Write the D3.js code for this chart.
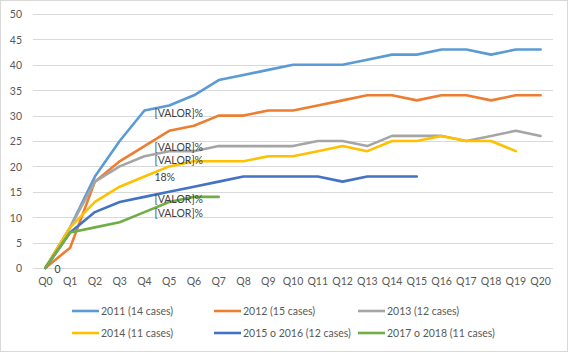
<!DOCTYPE html>
<html><head><meta charset="utf-8">
<script src="https://cdn.jsdelivr.net/npm/d3@7"></script>
<style>body{margin:0;background:#fff}svg{display:block;font-family:Lato,"Liberation Sans",sans-serif}</style>
</head><body><svg id="c" width="568" height="352"></svg>
<script>
const categories = ["Q0","Q1","Q2","Q3","Q4","Q5","Q6","Q7","Q8","Q9","Q10","Q11","Q12","Q13","Q14","Q15","Q16","Q17","Q18","Q19","Q20"];
const seriesNames = ["2011 (14 cases)","2012 (15 cases)","2013 (12 cases)","2014 (11 cases)","2015 o 2016 (12 cases)","2017 o 2018 (11 cases)"];
const seriesColors = ["#5B9BD5","#ED7D31","#A5A5A5","#FFC000","#4472C4","#70AD47"];
const s2011 = [0,8,18,25,31,32,34,37,38,39,40,40,40,41,42,42,43,43,42,43,43];
const s2012 = [0,4,17,21,24,27,28,30,30,31,31,32,33,34,34,33,34,34,33,34,34];
const s2013 = [0,8,17,20,22,23,23,24,24,24,24,25,25,24,26,26,26,25,26,27,26];
const s2014 = [0,8,13,16,18,20,21,21,21,22,22,23,24,23,25,25,26,25,25,23];
const s2015 = [0,7,11,13,14,15,16,17,18,18,18,18,17,18,18,18];
const s2017 = [0,7,8,9,11,13,14,14];
const yTicks = [0,5,10,15,20,25,30,35,40,45,50];
const labelCats = ["Q4","Q4","Q4","Q4","Q4","Q4","Q0"];
const labelSeries = [0,1,2,3,4,5,5];
const labelTexts = ["[VALOR]%","[VALOR]%","[VALOR]%","18%","[VALOR]%","[VALOR]%","0"];

(function(){
const allSeries = [s2011,s2012,s2013,s2014,s2015,s2017];
const labelDy = [2.5,1,4,0.5,2,1,1.5];
const FS = "10.5px";
const svg = d3.select("#c");
svg.append("rect").attr("x",0.5).attr("y",0.5).attr("width",567).attr("height",351)
  .attr("fill","#fff").attr("stroke","#D9D9D9");

const pl=33, pr=553, pt=14, pb=268;
const x = d3.scaleBand().domain(categories).range([pl,pr]);
const y = d3.scaleLinear().domain([0,50]).range([pb,pt]);
const cx = c => x(c)+x.bandwidth()/2;

svg.append("g").selectAll("line").data(yTicks).join("line")
  .attr("x1",pl).attr("x2",pr).attr("y1",d=>Math.round(y(d))+0.5).attr("y2",d=>Math.round(y(d))+0.5)
  .attr("stroke","#D9D9D9").attr("stroke-width",1);

const yAxis = d3.axisLeft(y).tickValues(yTicks).tickSize(0).tickPadding(0);
const gy = svg.append("g").attr("transform",`translate(${pl-11},0.5)`).call(yAxis);
gy.select(".domain").remove();
gy.selectAll("text").attr("fill","#595959").attr("font-size",FS).attr("font-family","Lato");

const xAxis = d3.axisBottom(x).tickSize(0).tickPadding(0);
const gx = svg.append("g").attr("transform",`translate(0,${pb+10})`).call(xAxis);
gx.select(".domain").remove();
gx.selectAll("text").attr("fill","#595959").attr("font-size",FS).attr("font-family","Lato");

const line = d3.line().x((d,i)=>cx(categories[i])).y(d=>y(d));
allSeries.forEach((s,k)=>{
  svg.append("path").datum(s).attr("d",line).attr("fill","none")
    .attr("stroke",seriesColors[k]).attr("stroke-width",2.6)
    .attr("stroke-linejoin","round").attr("stroke-linecap","round");
});

labelTexts.forEach((t,i)=>{
  const s = allSeries[labelSeries[i]];
  const ci = categories.indexOf(labelCats[i]);
  svg.append("text").attr("x",cx(labelCats[i])+(ci===0?9:10)).attr("y",y(s[ci])+labelDy[i])
    .attr("dy","0.35em").attr("fill","#404040").attr("font-size",FS).text(t);
});

const legPos = [[72,311],[214,311],[358,311],[72,333],[214,333],[358,333]];
seriesNames.forEach((n,k)=>{
  const [lx,ly] = legPos[k];
  svg.append("line").attr("x1",lx).attr("x2",lx+27).attr("y1",ly).attr("y2",ly)
    .attr("stroke",seriesColors[k]).attr("stroke-width",2.6);
  svg.append("text").attr("x",lx+29).attr("y",ly).attr("dy","0.35em")
    .attr("fill","#595959").attr("font-size",FS).text(n);
});
})();
</script></body></html>
